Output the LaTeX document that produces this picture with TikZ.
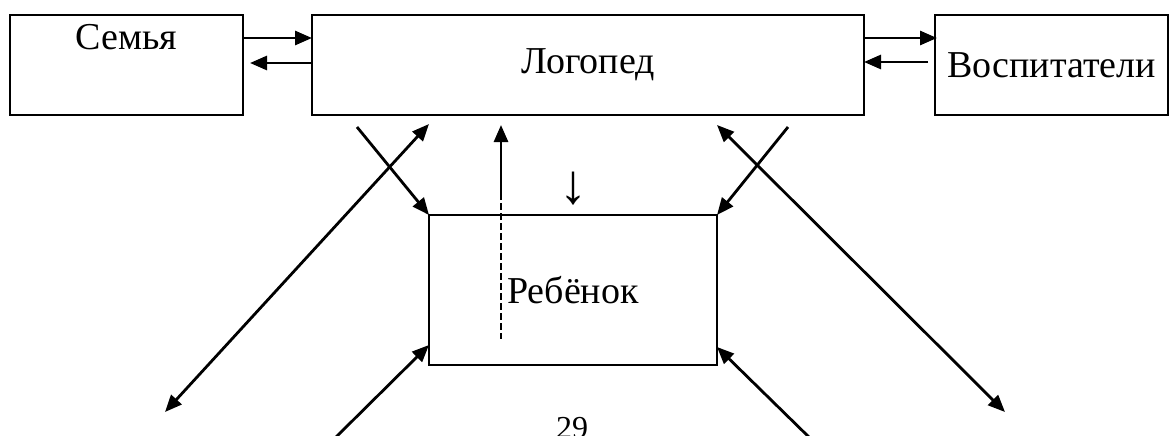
\documentclass[tikz,border=0pt]{standalone}
\usepackage{fontspec}
\setmainfont{Liberation Serif}
\usetikzlibrary{positioning,arrows.meta}

\begin{document}
\begin{tikzpicture}[x=1pt,y=-1pt,
    font=\fontsize{38}{46}\selectfont,
    box/.style={draw, line width=2.8pt, outer sep=0pt},
    arr/.style={line width=2.8pt, -{Triangle[length=17pt,width=14pt]}},
    darr/.style={line width=2.8pt, {Triangle[length=17pt,width=14pt]}-{Triangle[length=17pt,width=14pt]}}]
    \useasboundingbox (0,0) rectangle (1170,436);
    \node[box, minimum width=233pt, minimum height=100pt,
      label={[anchor=north, yshift=-6pt]north:Семья}] (a) at (126.5,65) {};
    \node[box, minimum width=552pt, minimum height=100pt, right=69pt of a] (b) {Логопед};
    \node[box, minimum width=233pt, minimum height=100pt, right=71pt of b] (c) {Воспитатели};
    \node[box, minimum width=288pt, minimum height=150pt, below right=100pt and 117pt of b.south west] (d) {Ребёнок};
    \node[font=\fontsize{56}{60}\selectfont] (i) at ([yshift=26pt]d.north) {↓};
    \node[anchor=north, inner sep=0pt, font=\fontsize{32}{38}\selectfont] (j) at (572,417) {29};
    \coordinate (e) at (165,412);
    \coordinate (f) at (1005,412);
    \coordinate (g) at (330,443);
    \coordinate (h) at (815,443);
    \draw[arr] ([yshift=-23pt]a.north east) -- ([yshift=-23pt]b.north west);
    \draw[arr] ([yshift=-48pt]b.north west) -- ([shift={(7pt,-48pt)}]a.north east);
    \draw[arr] ([yshift=-23pt]b.north east) -- ([shift={(2pt,-23pt)}]c.north west);
    \draw[arr] ([shift={(-7pt,-47pt)}]c.north west) -- ([yshift=-47pt]b.north east);
    \draw[arr] ([shift={(45pt,-12pt)}]b.south west) -- (d.north west);
    \draw[darr] ([shift={(117pt,-9pt)}]b.south west) -- (e);
    \draw[arr] ([shift={(72pt,22pt)}]d.north west) -- ([shift={(189pt,-10pt)}]b.south west);
    \draw[dashed, line width=1.5pt, dash pattern=on 7pt off 3pt] ([shift={(72pt,22pt)}]d.north west) -- ([shift={(72pt,-124pt)}]d.north west);
    \draw[arr] ([shift={(-76pt,-12pt)}]b.south east) -- (d.north east);
    \draw[darr] ([shift={(-147pt,-10pt)}]b.south east) -- (f);
    \draw[arr] (g) -- ([yshift=20pt]d.south west);
    \draw[arr] (h) -- ([yshift=18pt]d.south east);
  \end{tikzpicture}
\end{document}
